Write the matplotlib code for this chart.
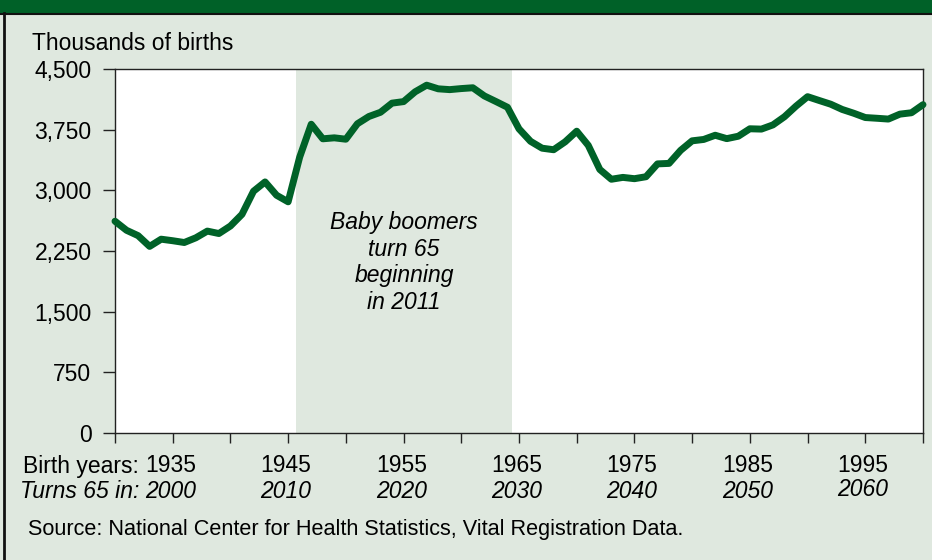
import matplotlib
matplotlib.use("Agg")
import matplotlib.pyplot as plt
from matplotlib.patches import Rectangle
from matplotlib.lines import Line2D
import matplotlib.transforms as mtransforms

plt.rcParams['font.family'] = ['Liberation Sans', 'DejaVu Sans']

years = list(range(1930, 2001))
births = [2618, 2506, 2440, 2307, 2396, 2377, 2355, 2413, 2496, 2466,
          2559, 2703, 2989, 3104, 2939, 2858, 3411, 3817, 3637, 3649,
          3632, 3823, 3913, 3965, 4078, 4097, 4218, 4300, 4255, 4245,
          4258, 4268, 4167, 4098, 4027, 3760, 3606, 3521, 3502, 3600,
          3731, 3556, 3258, 3137, 3160, 3144, 3168, 3327, 3333, 3494,
          3612, 3629, 3681, 3639, 3669, 3761, 3757, 3809, 3910, 4041,
          4158, 4111, 4065, 4000, 3953, 3900, 3891, 3881, 3942, 3959,
          4059]

y_ticks = [0, 750, 1500, 2250, 3000, 3750, 4500]
y_labels = ['0', '750', '1,500', '2,250', '3,000', '3,750', '4,500']
x_ticks = list(range(1930, 2001, 5))
birth_labels = ['1935', '1945', '1955', '1965', '1975', '1985', '1995']
turn_labels = ['2000', '2010', '2020', '2030', '2040', '2050', '2060']
label_years = [1935, 1945, 1955, 1965, 1975, 1985, 1995]
boom_start, boom_end = 1945.7, 1964.4

BG = '#dfe8df'
GREEN = '#006228'
FS = 16.5

fig = plt.figure(figsize=(9.32, 5.6), dpi=100)
fig.patch.set_facecolor(BG)

# top bar
fig.add_artist(Rectangle((0, 1 - 13/560), 1, 13/560, transform=fig.transFigure,
                         facecolor='#006128', edgecolor='none'))
fig.add_artist(Line2D([0, 1], [1 - 14/560, 1 - 14/560], transform=fig.transFigure,
                      color='#111111', lw=1.5))
fig.add_artist(Line2D([4/932, 4/932], [0, 1 - 13/560], transform=fig.transFigure,
                      color='#111111', lw=2))

ax = fig.add_axes([115/932, 1 - 433/560, (923 - 115)/932, (433 - 69)/560])
ax.set_facecolor('white')
ax.axvspan(boom_start, boom_end, color=BG, lw=0, zorder=0)
ax.plot(years, births, color=GREEN, lw=5, solid_joinstyle='round',
        solid_capstyle='round', zorder=3, clip_on=False)

ax.set_xlim(1930, 2000)
ax.set_ylim(0, 4500)
ax.set_yticks(y_ticks)
ax.set_yticklabels(y_labels, fontsize=FS)
ax.set_xticks(x_ticks)
ax.set_xticklabels([''] * len(x_ticks))
ax.tick_params(axis='y', direction='out', length=9, width=1, pad=8, colors='#222222',
               labelcolor='black')
ax.tick_params(axis='x', direction='out', length=7.5, width=1, colors='#222222')
for s in ax.spines.values():
    s.set_color('#222222')
    s.set_linewidth(1)

trans = mtransforms.blended_transform_factory(ax.transData, fig.transFigure)
for yr, bl, tl in zip(label_years, birth_labels, turn_labels):
    ax.text(yr - 0.2, 1 - 466/560, bl, transform=trans, ha='center', va='center',
            fontsize=FS, clip_on=False)
    yoff = 489 if tl == '2060' else 492
    ax.text(yr - 0.2, 1 - yoff/560, tl, transform=trans, ha='center', va='center',
            fontsize=FS, style='italic', clip_on=False)
fig.text(139/932, 1 - 466/560, 'Birth years:', ha='right', va='center', fontsize=FS)
fig.text(139/932, 1 - 492/560, 'Turns 65 in:', ha='right', va='center', fontsize=FS,
         style='italic')

ax.text((boom_start + boom_end) / 2, 2110, 'Baby boomers\nturn 65\nbeginning\nin 2011',
        ha='center', va='center', fontsize=FS, style='italic', linespacing=1.2,
        zorder=4)

fig.text(32/932, 1 - 43/560, 'Thousands of births', ha='left', va='center', fontsize=FS)
fig.text(28/932, 1 - 530/560,
         'Source: National Center for Health Statistics, Vital Registration Data.',
         ha='left', va='center', fontsize=15.6)

fig.savefig('out.png', dpi=100, facecolor=BG)
